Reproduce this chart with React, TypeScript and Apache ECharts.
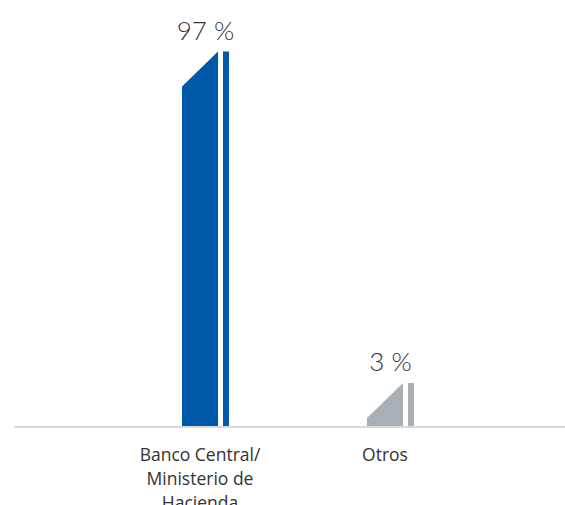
import React, { useEffect, useRef } from "react";
import * as echarts from "echarts";

const categories = ["Banco Central/\nMinisterio de\nHacienda", "Otros"];
const values = [97, 3];
const barColors = ["#0058A9", "#A8B0B6"];
const valueSuffix = " %";

export default function App() {
  const ref = useRef<HTMLDivElement>(null);

  useEffect(() => {
    document.body.style.margin = "0";
    if (!ref.current) return;
    const chart = echarts.init(ref.current, undefined, { renderer: "svg" });
    const axisData = ["", ...categories, ""];
    const option: any = {
      animation: false,
      backgroundColor: "#ffffff",
      grid: { left: 15, right: -5, top: 40, bottom: 78, containLabel: false, outerBoundsMode: "none" },
      xAxis: {
        type: "category",
        data: axisData,
        boundaryGap: false,
        z: 5,
        axisLine: { show: true, lineStyle: { color: "#D9D9D9", width: 2 } },
        axisTick: { show: false },
        splitLine: { show: false },
        axisLabel: {
          interval: 0,
          fontSize: 17.5,
          lineHeight: 24,
          margin: 15,
          color: "#333333",
          fontFamily: "Open Sans",
        },
      },
      yAxis: {
        type: "value",
        min: 0,
        max: 100,
        show: false,
        splitLine: { show: false },
      },
      series: [
        {
          type: "custom",
          z: 2,
          data: values.map((v, i) => [i + 1, v]),
          renderItem: (params: any, api: any) => {
            const xi = api.value(0);
            const v = api.value(1);
            const [cx, yv] = api.coord([xi, v]);
            const [, y0] = api.coord([xi, 0]);
            const minH = 44;
            const top = Math.min(yv, y0 - minH);
            const half = 18;
            const cut = 35;
            const color = barColors[params.dataIndex % barColors.length];
            return {
              type: "group",
              children: [
                {
                  type: "polygon",
                  shape: {
                    points: [
                      [cx - half, y0],
                      [cx - half, top + cut],
                      [cx + half, top],
                      [cx + half, y0],
                    ],
                  },
                  style: { fill: color },
                },
                {
                  type: "rect",
                  shape: { x: cx + half + 5, y: top, width: 6, height: y0 - top },
                  style: { fill: color },
                },
                {
                  type: "text",
                  x: cx + 5.5,
                  y: top - 9,
                  style: {
                    text: `${v}${valueSuffix}`,
                    align: "center",
                    verticalAlign: "bottom",
                    fontSize: 26,
                    fontWeight: 300,
                    fontFamily: "Lato",
                    fill: "#333333",
                  },
                },
              ],
            };
          },
        },
      ],
    };
    chart.setOption(option);
    return () => chart.dispose();
  }, []);

  return (
    <div
      ref={ref}
      style={{ position: "absolute", left: 0, top: 0, width: 565, height: 505 }}
    />
  );
}
